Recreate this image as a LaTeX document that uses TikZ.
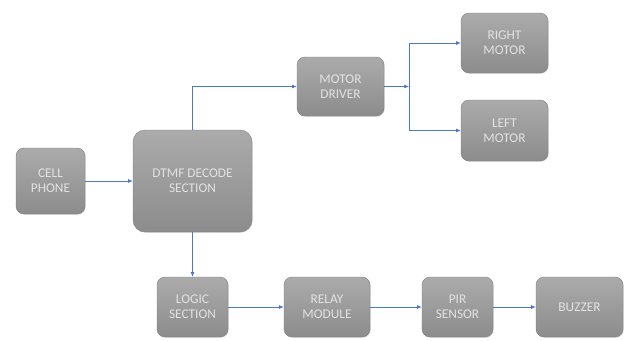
\documentclass[tikz,border=0pt]{standalone}
\usepackage{fontspec}
\setmainfont{Carlito}
\usetikzlibrary{arrows.meta,shadows}
\definecolor{boxtop}{HTML}{ABABAB}
\definecolor{boxbot}{HTML}{8C8C8C}
\definecolor{boxtxt}{HTML}{E2E2E2}
\definecolor{linkblue}{HTML}{4A78CC}
\begin{document}
\begin{tikzpicture}[x=0.75pt,y=-0.75pt,
  blk/.style={draw=boxbot!90!black, line width=0.3pt, rounded corners=6pt, top color=boxtop, bottom color=boxbot,
    text=boxtxt, align=center, inner sep=0pt, font=\fontsize{10}{11.5}\selectfont,
    drop shadow={shadow xshift=0.6pt, shadow yshift=-0.6pt, opacity=0.25}},
  link/.style={draw=linkblue, line width=0.6pt, -{Latex[length=3.5pt,width=3pt]}},
  plain/.style={draw=linkblue, line width=0.6pt}]
\useasboundingbox (0,0) rectangle (624,340);
\node[blk, minimum width=51.75pt, minimum height=49.5pt] (cell) at (50.5,181) {CELL\\PHONE};
\node[blk, minimum width=89.25pt, minimum height=76.5pt, rounded corners=9pt] (dtmf) at (192.5,181) {DTMF DECODE\\SECTION};
\node[blk, minimum width=65.25pt, minimum height=44.25pt] (md) at (340.5,86.5) {MOTOR\\DRIVER};
\node[blk, minimum width=65.25pt, minimum height=45pt] (rm) at (504.5,43) {RIGHT\\MOTOR};
\node[blk, minimum width=65.25pt, minimum height=45.75pt] (lm) at (504.5,130.5) {LEFT\\MOTOR};
\node[blk, minimum width=53.25pt, minimum height=45pt] (logic) at (192.5,307) {LOGIC\\SECTION};
\node[blk, minimum width=64.5pt, minimum height=45pt] (relay) at (327,307) {RELAY\\MODULE};
\node[blk, minimum width=53.25pt, minimum height=45pt] (pir) at (457.5,307) {PIR\\SENSOR};
\node[blk, minimum width=65.25pt, minimum height=45pt] (buz) at (579.5,307) {BUZZER};
\coordinate (j) at (409,86.5);
\draw[link] (cell) -- (dtmf);
\draw[link] (dtmf.north) |- (md.west);
\draw[link] (md.east) -- (j);
\draw[link] (j) |- (rm.west);
\draw[link] (j) |- (lm.west);
\draw[link] (dtmf.south) -- (logic.north);
\draw[link] (logic) -- (relay);
\draw[link] (relay) -- (pir);
\draw[link] (pir) -- (buz);
\end{tikzpicture}
\end{document}
